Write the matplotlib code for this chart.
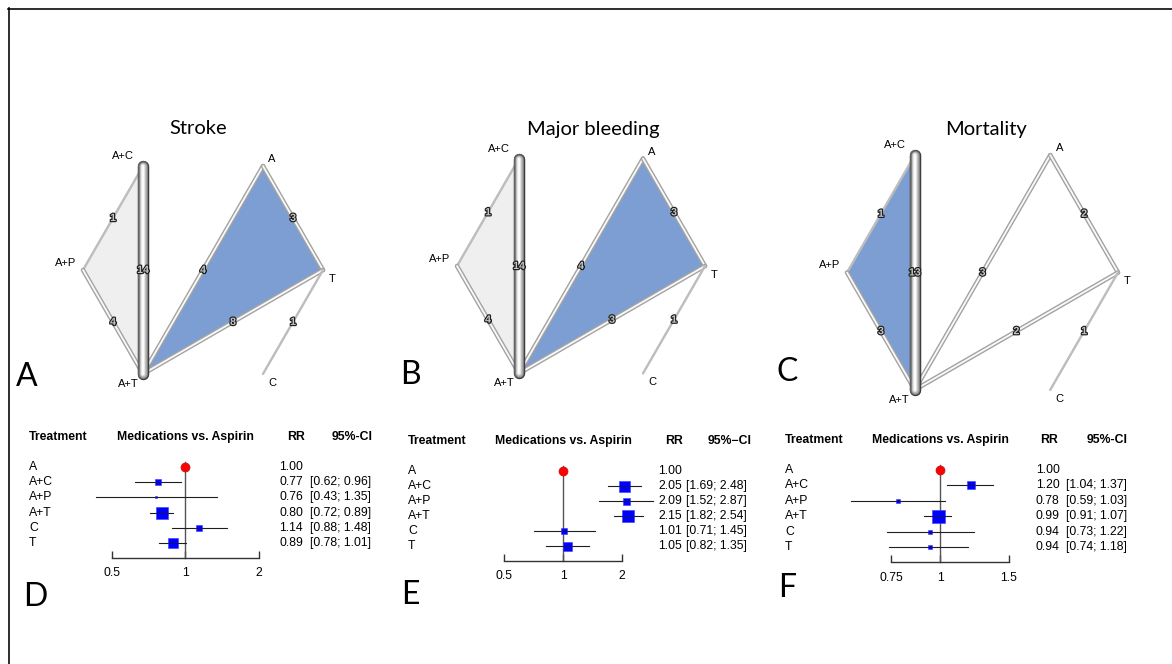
import numpy as np
import matplotlib
matplotlib.use("Agg")
import matplotlib.pyplot as plt
import matplotlib.patheffects as pe
from matplotlib import transforms as mtransforms
from matplotlib.lines import Line2D
from matplotlib.ticker import NullLocator, FixedLocator, FixedFormatter

# ------------------------------------------------------------------ data
treatments = ["A", "A+C", "A+P", "A+T", "C", "T"]
circle_nodes = ["T", "A", "A+C", "A+P", "A+T", "C"]  # order around the circle

edge_pairs = [("A+C", "A+P"), ("A+P", "A+T"), ("A+C", "A+T"), ("A+T", "A"),
              ("A", "T"), ("A+T", "T"), ("T", "C")]
stroke_studies = [1, 4, 14, 4, 3, 8, 1]
bleeding_studies = [1, 4, 14, 4, 3, 3, 1]
mortality_studies = [1, 3, 13, 3, 2, 2, 1]

stroke_loops = [(("A+T", "A", "T"), "multi"), (("A+C", "A+P", "A+T"), "pale")]
bleeding_loops = [(("A+T", "A", "T"), "multi"), (("A+C", "A+P", "A+T"), "pale")]
mortality_loops = [(("A+C", "A+P", "A+T"), "multi")]

stroke_rr = [1.00, 0.77, 0.76, 0.80, 1.14, 0.89]
stroke_lo = [np.nan, 0.62, 0.43, 0.72, 0.88, 0.78]
stroke_hi = [np.nan, 0.96, 1.35, 0.89, 1.48, 1.01]
stroke_weight = [0, 6.5, 2.5, 12.5, 5.5, 10]

bleeding_rr = [1.00, 2.05, 2.09, 2.15, 1.01, 1.05]
bleeding_lo = [np.nan, 1.69, 1.52, 1.82, 0.71, 0.82]
bleeding_hi = [np.nan, 2.48, 2.87, 2.54, 1.45, 1.35]
bleeding_weight = [0, 11, 7, 12.5, 6, 9]

mortality_rr = [1.00, 1.20, 0.78, 0.99, 0.94, 0.94]
mortality_lo = [np.nan, 1.04, 0.59, 0.91, 0.73, 0.74]
mortality_hi = [np.nan, 1.37, 1.03, 1.07, 1.22, 1.18]
mortality_weight = [0, 8.5, 4, 13, 5, 5]

stroke_ticks = [0.5, 1, 2]
bleeding_ticks = [0.5, 1, 2]
mortality_ticks = [0.75, 1, 1.5]
stroke_ticklabels = ["0.5", "1", "2"]
bleeding_ticklabels = ["0.5", "1", "2"]
mortality_ticklabels = ["0.75", "1", "1.5"]

# ------------------------------------------------------------------ figure
W, H = 1172, 664
DPI = 100
PX = 72.0 / DPI  # points per pixel
fig = plt.figure(figsize=(W / DPI, H / DPI), dpi=DPI)
fig.patch.set_facecolor("white")

LETTER_FONT = ["Lato", "DejaVu Sans"]
ARIAL = ["Liberation Sans", "DejaVu Sans"]
FS = 8.8  # forest text size

# border (top and left)
fig.add_artist(Line2D([8 / W, 1.0], [1 - 8.5 / H, 1 - 8.5 / H], transform=fig.transFigure,
                      color="black", lw=1.6 * PX))
fig.add_artist(Line2D([8.5 / W, 8.5 / W], [0, 1 - 8 / H], transform=fig.transFigure,
                      color="black", lw=1.6 * PX))


def ftext(x, y, s, **kw):
    fig.text(x / W, 1 - y / H, s, **kw)


BLUE_FILL = "#7d9ed3"
PALE_FILL = "#efefef"

label_offsets = {  # label offset from node, in pixels (x right, y down)
    "A+C": (-20, -10), "A": (9, -7), "T": (9, 9),
    "C": (9, 9), "A+T": (-15, 10), "A+P": (-17, -7),
}


def network(cx, cy, r, studies, loops):
    half = 1.35 * r
    ax = fig.add_axes([(cx - half) / W, (H - cy - half) / H, 2 * half / W, 2 * half / H])
    ax.set_xlim(-1.35, 1.35)
    ax.set_ylim(-1.35, 1.35)
    ax.axis("off")
    ang = np.deg2rad(np.arange(len(circle_nodes)) * 60.0)
    pos = {n: (np.cos(a), np.sin(a)) for n, a in zip(circle_nodes, ang)}

    for members, kind in loops:
        xs = [pos[m][0] for m in members]
        ys = [pos[m][1] for m in members]
        ax.fill(xs, ys, color=BLUE_FILL if kind == "multi" else PALE_FILL, lw=0, zorder=1)

    for (a, b), n in zip(edge_pairs, studies):
        xa, ya = pos[a]
        xb, yb = pos[b]
        if n >= 10:
            widths = [11.5, 10, 8.5, 7, 5.5, 4, 2.2]
            cols = ["#3e3e3e", "#646464", "#888888", "#a9a9a9", "#c8c8c8", "#e4e4e4", "#fbfbfb"]
            for w, c in zip(widths, cols):
                ax.plot([xa, xb], [ya, yb], color=c, lw=w * PX, solid_capstyle="round", zorder=4)
        elif n >= 2:
            ax.plot([xa, xb], [ya, yb], color="#a3a3a3", lw=4.6 * PX, solid_capstyle="round", zorder=3)
            ax.plot([xa, xb], [ya, yb], color="#fafafa", lw=1.8 * PX, solid_capstyle="round", zorder=3)
        else:
            ax.plot([xa, xb], [ya, yb], color="#bdbdbd", lw=2.4 * PX, solid_capstyle="round", zorder=3)
        ax.text((xa + xb) / 2, (ya + yb) / 2, str(n), ha="center", va="center",
                fontsize=7.6, fontweight="bold", color="#c4c4c4", family=ARIAL, zorder=6,
                path_effects=[pe.withStroke(linewidth=1.7, foreground="#1e1e1e")])

    for n in circle_nodes:
        dx, dy = label_offsets[n]
        ax.annotate(n, pos[n], xytext=(dx * PX, -dy * PX), textcoords="offset points",
                    ha="center", va="center", fontsize=8, family=ARIAL, color="black", zorder=7)
    return ax


network(203, 270, 120, stroke_studies, stroke_loops)
network(581, 266, 124, bleeding_studies, bleeding_loops)
network(982.5, 272.5, 135.5, mortality_studies, mortality_loops)

ftext(198, 129, "Stroke", ha="center", va="center", fontsize=14.5, family=LETTER_FONT)
ftext(593, 129, "Major bleeding", ha="center", va="center", fontsize=14.5, family=LETTER_FONT)
ftext(986, 129, "Mortality", ha="center", va="center", fontsize=14.5, family=LETTER_FONT)

for letter, (x, y) in zip("ABCDEF", [(27, 377), (410, 375), (787, 372),
                                      (35, 597), (410, 595), (787, 588)]):
    ftext(x, y, letter, ha="center", va="center", fontsize=23, family=LETTER_FONT)


def forest(xl, xr, px1, k, row0, dy, rr, lo, hi, weight, ticks, ticklabels,
           x_name, x_mid, x_rr, x_ci, x_rrhdr, x_cihdr, cihdr):
    top = row0 - 2.6 * dy
    bot = row0 + 5.95 * dy
    ax = fig.add_axes([xl / W, (H - bot) / H, (xr - xl) / W, (bot - top) / H])
    ax.set_xscale("log")
    ax.set_xlim(np.exp((xl - px1) / k), np.exp((xr - px1) / k))
    ax.set_ylim(5.95, -2.6)
    for s in ["top", "left", "right"]:
        ax.spines[s].set_visible(False)
    ax.set_facecolor("none")
    ax.spines["bottom"].set_bounds(ticks[0], ticks[-1])
    ax.spines["bottom"].set_linewidth(1.0)
    ax.spines["bottom"].set_color("#333333")
    ax.xaxis.set_major_locator(FixedLocator(ticks))
    ax.xaxis.set_major_formatter(FixedFormatter(ticklabels))
    ax.xaxis.set_minor_locator(NullLocator())
    ax.tick_params(axis="x", direction="in", length=7 * PX, width=1.0,
                   color="#333333", pad=7.0, labelsize=FS)
    for t in ax.get_xticklabels():
        t.set_family(ARIAL)
    ax.set_yticks([])

    ax.plot([1, 1], [-0.3, 5.95], color="#555555", lw=1.0, zorder=2, clip_on=False)
    for i in range(len(treatments)):
        if np.isnan(lo[i]):
            ax.plot(rr[i], i, "o", ms=9 * PX, mfc="#ff0000", mec="#c01010", mew=0.5, zorder=5,
                    clip_on=False)
            continue
        ax.plot([lo[i], hi[i]], [i, i], color="#2a2a2a", lw=0.8, zorder=3, clip_on=False)
        ax.plot(rr[i], i, "s", ms=weight[i] * PX, mfc="#0000ff", mec="#3a3aff", mew=0.4,
                zorder=4, clip_on=False)
        ax.plot([lo[i], hi[i]], [i, i], color="#1a1a1a", lw=0.5, zorder=5, clip_on=False)

    tr = mtransforms.blended_transform_factory(fig.transFigure, ax.transData)
    hdr_y = -1.95
    kw = dict(transform=tr, va="center", fontsize=FS, family=ARIAL)
    ax.text(x_name / W, hdr_y, "Treatment", ha="left", fontweight="bold", **kw)
    ax.text(x_mid / W, hdr_y, "Medications vs. Aspirin", ha="center", fontweight="bold", **kw)
    ax.text(x_rrhdr / W, hdr_y, "RR", ha="center", fontweight="bold", **kw)
    ax.text(x_cihdr / W, hdr_y, cihdr, ha="right", fontweight="bold", **kw)
    for i, t in enumerate(treatments):
        ax.text(x_name / W, i, t, ha="left", **kw)
        ax.text(x_rr / W, i, f"{rr[i]:.2f}", ha="left", **kw)
        if not np.isnan(lo[i]):
            ax.text(x_ci / W, i, f"[{lo[i]:.2f}; {hi[i]:.2f}]", ha="left", **kw)
    return ax


forest(80, 300, 185.3, 106.0, 466.7, 15.3, stroke_rr, stroke_lo, stroke_hi, stroke_weight,
       stroke_ticks, stroke_ticklabels, 29, 185.5, 279, 310, 296, 373, "95%-CI")
forest(490, 655, 563.3, 85.1, 470.7, 15.1, bleeding_rr, bleeding_lo, bleeding_hi, bleeding_weight,
       bleeding_ticks, bleeding_ticklabels, 408, 563, 658, 686, 674, 752, "95%\u2212CI")
forest(845, 1030, 940.0, 169.0, 470.0, 15.45, mortality_rr, mortality_lo, mortality_hi,
       mortality_weight, mortality_ticks, mortality_ticklabels, 785, 940, 1035.7, 1066, 1049, 1128,
       "95%-CI")

fig.savefig("out.png", dpi=DPI, facecolor="white")
